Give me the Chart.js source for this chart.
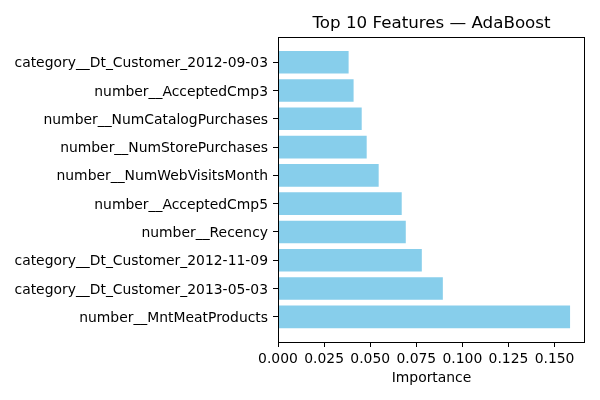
<!DOCTYPE html>
<html lang="en">
<head>
    <meta charset="UTF-8">
    <title>Top 10 Features — AdaBoost</title>
    <style>
        body { margin: 0; background: #fff; }
        #wrap { width: 600px; height: 400px; }
    </style>
</head>
<body>
    <div id="wrap"><canvas id="featChart"></canvas></div>

    <script src="https://cdn.jsdelivr.net/npm/chart.js"></script>
    <script>
        // feature names, index 0 sits at the bottom of the chart
        const features = [
            'number__MntMeatProducts',
            'category__Dt_Customer_2013-05-03',
            'category__Dt_Customer_2012-11-09',
            'number__Recency',
            'number__AcceptedCmp5',
            'number__NumWebVisitsMonth',
            'number__NumStorePurchases',
            'number__NumCatalogPurchases',
            'number__AcceptedCmp3',
            'category__Dt_Customer_2012-09-03'
        ];
        const importance = [0.1584, 0.0894, 0.0780, 0.0693, 0.0671, 0.0546, 0.0481, 0.0454, 0.0410, 0.0383];
        const xTicks = [0, 0.025, 0.05, 0.075, 0.1, 0.125, 0.15];

        // top and right spines
        const frame = {
            id: 'frame',
            afterDraw(chart) {
                const a = chart.chartArea, c = chart.ctx;
                c.save();
                c.strokeStyle = '#000';
                c.lineWidth = 1;
                c.strokeRect(Math.round(a.left) + 0.5, Math.round(a.top) + 0.5,
                    Math.round(a.right - a.left) - 1, Math.round(a.bottom - a.top));
                c.restore();
            }
        };

        Chart.defaults.font.family = '"DejaVu Sans", sans-serif';
        Chart.defaults.color = '#000';

        new Chart(document.getElementById('featChart'), {
            type: 'bar',
            data: {
                datasets: [{
                    data: importance.map((v, i) => ({ x: v, y: i })),
                    backgroundColor: '#87CEEB',
                    barPercentage: 0.8,
                    categoryPercentage: 1.0
                }]
            },
            options: {
                indexAxis: 'y',
                responsive: true,
                maintainAspectRatio: false,
                animation: false,
                layout: { padding: { left: 0, right: 15, top: 0, bottom: 0 } },
                plugins: {
                    legend: { display: false },
                    tooltip: { enabled: false },
                    title: {
                        display: true,
                        fullSize: false,
                        text: 'Top 10 Features — AdaBoost',
                        font: { size: 16.7, weight: 'normal' },
                        padding: { top: 14, bottom: 3 }
                    }
                },
                scales: {
                    x: {
                        type: 'linear',
                        min: 0,
                        max: 0.1665,
                        afterBuildTicks(scale) {
                            scale.ticks = xTicks.map(v => ({ value: v }));
                        },
                        afterFit(scale) { scale.height = 58; },
                        border: { display: false },
                        grid: { drawOnChartArea: false, drawTicks: true, tickLength: 5, tickColor: '#000' },
                        ticks: {
                            font: { size: 13.9 },
                            padding: 4,
                            maxRotation: 0,
                            callback: v => v.toFixed(3)
                        },
                        title: {
                            display: true,
                            text: 'Importance',
                            font: { size: 13.9 },
                            padding: { top: 2, bottom: 13 }
                        }
                    },
                    y: {
                        type: 'linear',
                        min: -0.89,
                        max: 9.89,
                        offset: false,
                        afterBuildTicks(scale) {
                            scale.ticks = features.map((f, i) => ({ value: i }));
                        },
                        afterFit(scale) { scale.width = 278; },
                        border: { display: false },
                        grid: { offset: false, drawOnChartArea: false, drawTicks: true, tickLength: 5, tickColor: '#000' },
                        ticks: {
                            font: { size: 13.9 },
                            padding: 5,
                            labelOffset: 1.5,
                            autoSkip: false,
                            callback: v => features[v] || ''
                        }
                    }
                }
            },
            plugins: [frame]
        });
    </script>
</body>
</html>
